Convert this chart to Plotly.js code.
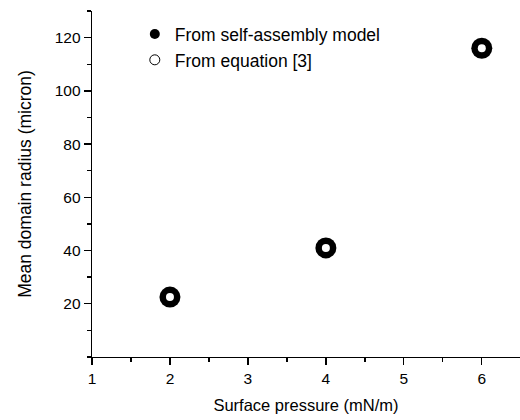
<!DOCTYPE html>
<html>
<head>
<meta charset="utf-8">
<script src="https://cdn.plot.ly/plotly-3.0.1.min.js"></script>
<style>html,body{margin:0;padding:0;background:#fff;}#chart{width:520px;height:420px;}</style>
</head>
<body>
<div id="chart"></div>
<script>
const pressure = [2, 4, 6];
const radiusModel = [22.5, 41, 116];
const radiusEquation = [22.5, 41, 116];
const seriesNames = ["From self-assembly model", "From equation [3]"];
const xTickVals = [1, 2, 3, 4, 5, 6];
const yTickVals = [20, 40, 60, 80, 100, 120];

const font = {family: "Liberation Sans, Arial, sans-serif", size: 15, color: "#000"};

const traces = [
  {x: pressure, y: radiusModel, type: "scatter", mode: "markers", name: seriesNames[0], showlegend: false,
   marker: {symbol: "circle", size: 21, color: "#000"}},
  {x: pressure, y: radiusEquation, type: "scatter", mode: "markers", name: seriesNames[1], showlegend: false,
   marker: {symbol: "circle", size: 8, color: "#fff", line: {width: 0}}},
  {x: [null], y: [null], type: "scatter", mode: "markers", name: seriesNames[0],
   marker: {symbol: "circle", size: 10, color: "#000"}},
  {x: [null], y: [null], type: "scatter", mode: "markers", name: seriesNames[1],
   marker: {symbol: "circle", size: 10, color: "#fff", line: {width: 1, color: "#000"}}}
];

const layout = {
  width: 520, height: 420,
  margin: {l: 92, r: 0, t: 11, b: 63, pad: 0},
  paper_bgcolor: "#fff", plot_bgcolor: "#fff",
  font: font,
  showlegend: true,
  legend: {x: 0.1, y: 0.985, xanchor: "left", yanchor: "top", bgcolor: "rgba(0,0,0,0)",
           borderwidth: 0, font: {family: font.family, size: 17.5, color: "#000"}, tracegroupgap: 0, itemwidth: 30},
  xaxis: {
    range: [1, 6.49], showgrid: false, zeroline: false,
    showline: true, linecolor: "#000", linewidth: 1.3, mirror: false,
    tickmode: "array", tickvals: xTickVals, ticktext: xTickVals.map(String),
    ticks: "outside", ticklen: 7, tickwidth: 1.3, tickcolor: "#000",
    tickfont: {family: font.family, size: 15.5, color: "#000"},
    minor: {dtick: 0.5, tick0: 1, ticks: "outside", ticklen: 4, tickwidth: 1.3, tickcolor: "#000", showgrid: false},
    title: {text: "Surface pressure (mN/m)", font: {family: font.family, size: 16.5, color: "#000"}, standoff: 13}
  },
  yaxis: {
    range: [0, 130], showgrid: false, zeroline: false,
    showline: true, linecolor: "#000", linewidth: 1.3, mirror: false,
    tickmode: "array", tickvals: yTickVals, ticktext: yTickVals.map(String),
    ticks: "outside", ticklen: 7, tickwidth: 1.3, tickcolor: "#000",
    tickfont: {family: font.family, size: 15.5, color: "#000"},
    minor: {dtick: 10, tick0: 0, ticks: "outside", ticklen: 4, tickwidth: 1.3, tickcolor: "#000", showgrid: false},
    title: {text: "Mean domain radius (micron)", font: {family: font.family, size: 17.5, color: "#000"}, standoff: 18}
  }
};

Plotly.newPlot("chart", traces, layout, {displayModeBar: false, staticPlot: true});
</script>
</body>
</html>
